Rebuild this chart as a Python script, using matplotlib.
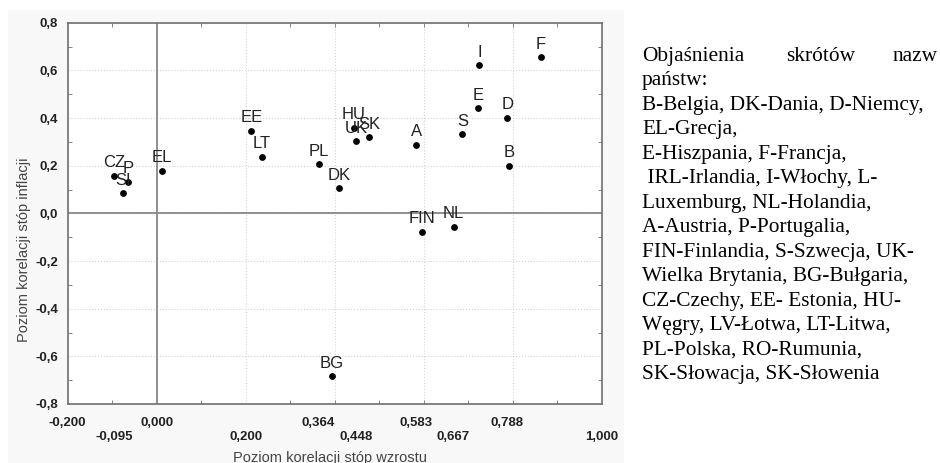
import matplotlib.pyplot as plt
from matplotlib.patches import Rectangle
import numpy as np

# dane
kraje = ['CZ', 'P', 'SI', 'EL', 'EE', 'LT', 'PL', 'DK', 'HU', 'UK', 'SK',
         'BG', 'A', 'FIN', 'NL', 'S', 'E', 'I', 'D', 'B', 'F']
wzrost = [-0.095, -0.064, -0.076, 0.012, 0.213, 0.237, 0.364, 0.410, 0.443,
          0.448, 0.477, 0.393, 0.583, 0.596, 0.667, 0.687, 0.723, 0.725,
          0.788, 0.792, 0.864]
inflacja = [0.157, 0.133, 0.085, 0.178, 0.347, 0.238, 0.206, 0.105, 0.358,
            0.303, 0.319, -0.683, 0.287, -0.077, -0.057, 0.331, 0.440, 0.622,
            0.401, 0.200, 0.654]

xticks = [-0.200, -0.095, 0.000, 0.200, 0.364, 0.448, 0.583, 0.667, 0.788, 1.000]
yticks = [0.8, 0.6, 0.4, 0.2, 0.0, -0.2, -0.4, -0.6, -0.8]

opis = [
    'państw:',
    'B-Belgia, DK-Dania, D-Niemcy,',
    'EL-Grecja,',
    'E-Hiszpania, F-Francja,',
    ' IRL-Irlandia, I-Włochy, L-',
    'Luxemburg, NL-Holandia,',
    'A-Austria, P-Portugalia,',
    'FIN-Finlandia, S-Szwecja, UK-',
    'Wielka Brytania, BG-Bułgaria,',
    'CZ-Czechy, EE- Estonia, HU-',
    'Węgry, LV-Łotwa, LT-Litwa,',
    'PL-Polska, RO-Rumunia,',
    'SK-Słowacja, SK-Słowenia',
]

W, H = 940, 463
fig = plt.figure(figsize=(W / 100, H / 100), dpi=100)
fig.patches.append(Rectangle((8 / W, 0), (624 - 8) / W, (H - 10) / H,
                             transform=fig.transFigure, facecolor='#f8f8f8',
                             edgecolor='none', zorder=-5))

ax = fig.add_axes([67.7 / W, (H - 404) / H, (601.7 - 67.7) / W, (404 - 22.7) / H])
ax.set_zorder(2)
ax.set_facecolor('white')
ax.set_xlim(-0.2, 1.0)
ax.set_ylim(-0.8, 0.8)

# siatka i osie zerowe
for g in np.arange(-0.2, 1.01, 0.2):
    ax.axvline(g, color='#d4d4d4', lw=0.8, ls=':', zorder=1)
for g in np.arange(-0.8, 0.81, 0.2):
    ax.axhline(g, color='#d4d4d4', lw=0.8, ls=':', zorder=1)
ax.axvline(0, color='#888888', lw=1.3, zorder=2)
ax.axhline(0, color='#888888', lw=1.3, zorder=2)

ax.scatter(wzrost, inflacja, s=15, color='black', zorder=4)
for k, x, y in zip(kraje, wzrost, inflacja):
    ax.annotate(k, (x, y), xytext=(0, 4), textcoords='offset points',
                ha='center', va='bottom', fontsize=12,
                family='Liberation Sans', color='#222222', zorder=5)

for s in ax.spines.values():
    s.set_color('#707070')
    s.set_linewidth(1.2)

xlab = []
for i, v in enumerate(xticks):
    t = ('%.3f' % v).replace('.', ',')
    xlab.append(t if i % 2 == 0 else '\n' + t)
ax.set_xticks(xticks)
ax.set_xticklabels(xlab, fontsize=9.5, fontweight='bold', family='Liberation Sans',
                   color='#222222', linespacing=1.3)
ax.set_yticks(yticks)
ax.set_yticklabels([('%.1f' % v).replace('.', ',') for v in yticks], fontsize=9.5,
                   fontweight='bold', family='Liberation Sans', color='#222222')
ax.tick_params(axis='x', which='major', length=0, pad=9)
ax.tick_params(axis='y', which='major', length=0, pad=7)
ax.set_xticks(np.arange(-0.2, 1.01, 0.1), minor=True)
ax.set_yticks(np.arange(-0.8, 0.81, 0.1), minor=True)
ax.tick_params(axis='both', which='minor', direction='in', length=3,
               color='#707070', top=True, right=True)

fig.text(330 / W, 1 / H, 'Poziom korelacji stóp wzrostu', ha='center',
         va='baseline', fontsize=10.5, family='Liberation Sans', color='#444444')
fig.text(24 / W, 213 / H, 'Poziom korelacji stóp inflacji', ha='center',
         va='center', rotation=90, fontsize=10.5, family='Liberation Sans',
         color='#444444')

# objaśnienia skrótów
fs = 15.4
y0 = 61
fig.text(642 / W, 1 - y0 / H, 'Objaśnienia', fontsize=fs, family='Liberation Serif',
         va='baseline', ha='left')
fig.text(786 / W, 1 - y0 / H, 'skrótów', fontsize=fs, family='Liberation Serif',
         va='baseline', ha='left')
fig.text(938 / W, 1 - y0 / H, 'nazw', fontsize=fs, family='Liberation Serif',
         va='baseline', ha='right')
for i, linia in enumerate(opis):
    fig.text(642 / W, 1 - (y0 + 24.48 * (i + 1)) / H, linia, fontsize=fs,
             family='Liberation Serif', va='baseline', ha='left')

fig.savefig('out.png', dpi=100)
